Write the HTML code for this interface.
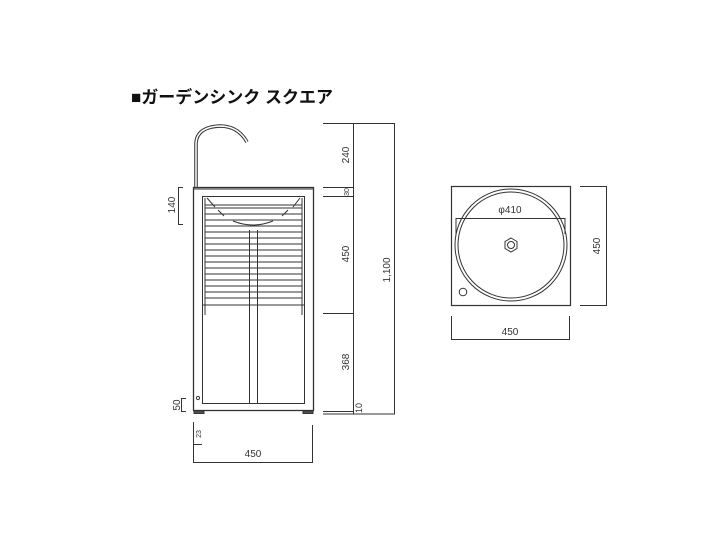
<!DOCTYPE html>
<html><head><meta charset="utf-8"><style>
body{margin:0;background:#fff;width:720px;height:540px;overflow:hidden}
svg{position:absolute;left:0;top:0}
text{font-family:"Liberation Sans",sans-serif;fill:#333}
</style></head><body>
<svg width="720" height="540" viewBox="0 0 720 540">
<text x="131" y="103" style="font-family:'Liberation Sans','Noto Sans CJK JP',sans-serif;font-size:17px;font-weight:bold;fill:#111">■ガーデンシンク スクエア</text>
<g stroke="#333" fill="none" stroke-width="1">
<!-- faucet -->
<path d="M196 187 V143 Q197 127 220 126 Q238 126 247 142" stroke-width="3.5"/>
<path d="M196 187 V143 Q197 127 220 126 Q238 126 247 142" stroke="#fff" stroke-width="1.5"/>
<!-- cabinet -->
<rect x="193.5" y="187.5" width="120" height="223" stroke-width="1.3"/>
<rect x="202.5" y="196.5" width="102" height="207"/>
<line x1="193" y1="189" x2="313" y2="189"/>
<g stroke-width="1">
<line x1="205" y1="205" x2="302" y2="205"/><line x1="205" y1="208" x2="302" y2="208"/>
<line x1="205" y1="214" x2="302" y2="214"/><line x1="205" y1="220" x2="302" y2="220"/>
<line x1="205" y1="226" x2="302" y2="226"/><line x1="205" y1="232" x2="302" y2="232"/>
<line x1="205" y1="238" x2="302" y2="238"/><line x1="205" y1="244" x2="302" y2="244"/>
<line x1="205" y1="250" x2="302" y2="250"/><line x1="205" y1="256" x2="302" y2="256"/>
<line x1="205" y1="262" x2="302" y2="262"/><line x1="205" y1="268" x2="302" y2="268"/>
<line x1="205" y1="274" x2="302" y2="274"/><line x1="205" y1="280" x2="302" y2="280"/>
<line x1="205" y1="286" x2="302" y2="286"/><line x1="205" y1="292" x2="302" y2="292"/>
<line x1="205" y1="298" x2="302" y2="298"/><line x1="205" y1="305" x2="302" y2="305"/>
</g>
<line x1="205" y1="198" x2="205" y2="315"/><line x1="302" y1="198" x2="302" y2="315"/>
<path d="M207 198 L215 207 M300 198 L293 207 M218 210 L224 216 M288 210 L282 216"/>
<path d="M233 221 Q253 229 273 221"/>
<line x1="249.5" y1="230" x2="249.5" y2="403"/><line x1="257.5" y1="230" x2="257.5" y2="403"/>
<line x1="203" y1="305" x2="305" y2="305"/>
<circle cx="198" cy="398" r="1.6"/>
<rect x="194" y="411" width="10" height="2.5" fill="#555"/><rect x="303" y="411" width="10" height="2.5" fill="#555"/>
<!-- right dims -->
<path d="M323 123.5 H394.5 V414 H323"/>
<line x1="353.5" y1="123" x2="353.5" y2="414"/>
<line x1="323" y1="187.5" x2="353" y2="187.5"/><line x1="323" y1="196.5" x2="353" y2="196.5"/>
<line x1="323" y1="313.5" x2="353" y2="313.5"/><line x1="323" y1="411.5" x2="353" y2="411.5"/>
<!-- left dims -->
<path d="M183 187.5 H178.5 V224.5 H183"/>
<path d="M186 398.5 H181.5 V411.5 H186"/>
<path d="M193.5 422 V444.5 H202"/>
<path d="M193.5 425 V462.5 H312.5 V425"/>
<!-- top view -->
<rect x="451.5" y="186.5" width="119" height="119" stroke-width="1.2"/>
<circle cx="511" cy="245" r="56"/><circle cx="511" cy="245" r="53"/>
<path d="M456 234 V218.5 H565 V234"/>
<polygon points="511,238 517,241.5 517,248.5 511,252 505,248.5 505,241.5"/>
<circle cx="511" cy="245" r="3.5"/>
<circle cx="463" cy="292" r="3.8"/>
<path d="M580 186.5 H606.5 V305.5 H580"/>
<path d="M451.5 316 V339.5 H569.5 V316"/>
</g>
<g font-size="10">
<text transform="translate(349,155) rotate(-90)" text-anchor="middle">240</text>
<text transform="translate(349,192) rotate(-90)" text-anchor="middle" font-size="7">30</text>
<text transform="translate(349,254) rotate(-90)" text-anchor="middle">450</text>
<text transform="translate(349,362) rotate(-90)" text-anchor="middle">368</text>
<text transform="translate(362,408) rotate(-90)" text-anchor="middle" font-size="9">10</text>
<text transform="translate(390,270) rotate(-90)" text-anchor="middle">1,100</text>
<text transform="translate(175,205) rotate(-90)" text-anchor="middle">140</text>
<text transform="translate(180,405) rotate(-90)" text-anchor="middle">50</text>
<text transform="translate(201,434) rotate(-90)" text-anchor="middle" font-size="7">23</text>
<text x="253" y="457" text-anchor="middle">450</text>
<text x="510" y="213" text-anchor="middle">φ410</text>
<text transform="translate(600,246) rotate(-90)" text-anchor="middle">450</text>
<text x="510" y="335" text-anchor="middle">450</text>
</g>
</svg>
</body></html>
